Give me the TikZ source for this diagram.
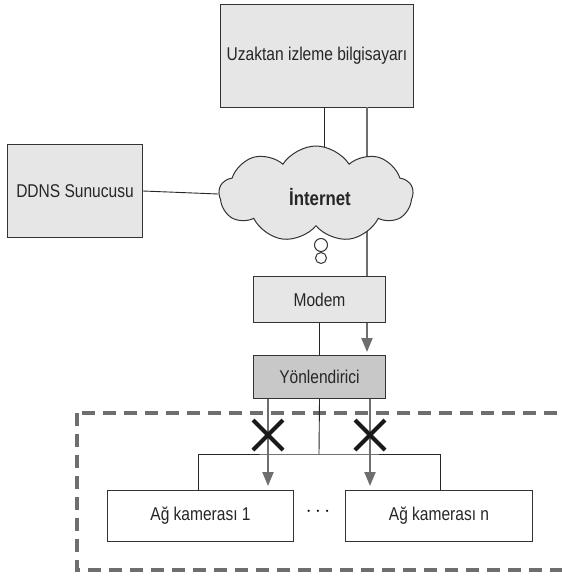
\documentclass[tikz,border=0pt]{standalone}
\usepackage{fontspec}
\setmainfont{Liberation Sans}[FakeStretch=0.84]
\usetikzlibrary{shapes.symbols,arrows.meta}
\definecolor{boxfill}{HTML}{E6E6E7}
\definecolor{routerfill}{HTML}{C8C8C9}
\definecolor{edge}{HTML}{333333}
\definecolor{arrowgray}{HTML}{6E6E6E}
\begin{document}
\begin{tikzpicture}[x=1pt,y=-1pt,
  box/.style={draw=edge,line width=1pt,fill=boxfill,font=\fontsize{18.5}{20}\selectfont,text=black!85},
  link/.style={draw=black!85,line width=0.9pt},
  garrow/.style={draw=arrowgray,line width=2.2pt,-{Triangle[length=14pt,width=11pt]}},
  xmark/.style={draw=black!90,line width=4pt}]
\useasboundingbox (0,0) rectangle (562,576);
% nodes
\node[box,minimum width=193pt,minimum height=103pt,anchor=north west] (pc) at (220,4) {Uzaktan izleme bilgisayarı};
\node[box,minimum width=135pt,minimum height=93pt,anchor=north west] (ddns) at (7,144) {DDNS Sunucusu};
\coordinate (ga) at (367,107);
\coordinate (gb) at (367,352);
\draw[garrow] (ga) -- (gb);
\draw[link] (324,107) -- (324,160);
\node[cloud,cloud puffs=9,cloud puff arc=115,aspect=2.1,draw=edge,line width=1pt,fill=boxfill,minimum width=194pt,minimum height=96pt,inner sep=0pt] (net) at (316,194) {};
\node[font=\fontsize{20}{22}\selectfont\bfseries,text=black!85] (nettxt) at (320,197) {İnternet};
\draw[link] (ddns.east) -- (net.west);
\node[draw=edge,line width=1pt,fill=white,circle,minimum size=13pt,inner sep=0pt] (c1) at (321,245) {};
\node[draw=edge,line width=1pt,fill=white,circle,minimum size=11pt,inner sep=0pt] (c2) at (321,258) {};
\node[box,minimum width=132pt,minimum height=46pt,anchor=north west] (modem) at (253,276) {Modem};
\node[box,fill=routerfill,minimum width=132pt,minimum height=43pt,anchor=north west] (router) at (253,355) {Yönlendirici};
\draw[link] (modem.south) -- (router.north);
% dashed zone
\draw[arrowgray,line width=3.5pt,dash pattern=on 13pt off 8pt] (77,413) rectangle (580,570);
% cameras
\node[box,fill=white,minimum width=186pt,minimum height=51pt,anchor=north west] (cam1) at (107,490) {Ağ kamerası 1};
\node[box,fill=white,minimum width=187pt,minimum height=51pt,anchor=north west] (camn) at (345,490) {Ağ kamerası n};
\node[font=\fontsize{22}{24}\selectfont] (dots) at (318,512) {$\cdots$};
\coordinate (hub) at (319,454);
\draw[link] (router.south) -- (hub);
\draw[link] (198,490) |- (hub) -| (440,490);
\coordinate (r1) at (268,399);
\coordinate (r2) at (370,399);
\draw[garrow] (r1) -- (268,486);
\draw[garrow] (r2) -- (370,486);
\draw[xmark] (253,420) -- (283,450) (253,450) -- (283,420);
\draw[xmark] (355,420) -- (385,450) (355,450) -- (385,420);
\end{tikzpicture}
\end{document}
